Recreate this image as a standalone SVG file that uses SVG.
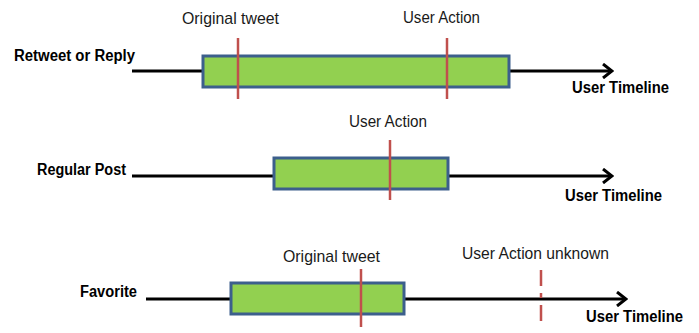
<svg xmlns="http://www.w3.org/2000/svg" width="699" height="333" viewBox="0 0 699 333">
  <defs>
    <style>
      .label { font-family: "Liberation Sans", Arial, sans-serif; font-size: 17px; fill: #1a1a1a; }
      .title { font-family: "Liberation Sans", Arial, sans-serif; font-size: 16px; font-weight: bold; fill: #000; }
      .axis { stroke: #000; stroke-width: 3; fill: none; }
      .span { fill: #92d050; stroke: #3c5f8c; stroke-width: 3; }
      .mark { stroke: #c0504d; stroke-width: 2.5; }
      .mark-unknown { stroke: #c0504d; stroke-width: 2.5; stroke-dasharray: 16 7 5 7 16; }
    </style>
    <marker id="chevron" viewBox="0 0 12 16" refX="10" refY="8" markerWidth="12" markerHeight="16" markerUnits="userSpaceOnUse" orient="auto">
      <path d="M1,1 L10,8 L1,15" fill="none" stroke="#000" stroke-width="3"/>
    </marker>
  </defs>
  <rect width="699" height="333" fill="#fff"/>

  <!-- timelines -->
  <g id="connectors">
    <line class="axis" x1="132" y1="71" x2="612" y2="71" marker-end="url(#chevron)"/>
    <line class="axis" x1="132" y1="176" x2="612" y2="176" marker-end="url(#chevron)"/>
    <line class="axis" x1="146" y1="299" x2="626" y2="299" marker-end="url(#chevron)"/>
  </g>

  <!-- row 1: retweet or reply -->
  <g id="retweet-reply">
    <text class="title" x="14" y="61" textLength="121" lengthAdjust="spacingAndGlyphs">Retweet or Reply</text>
    <rect class="span" x="203" y="56" width="306" height="31"/>
    <line class="mark" x1="238" y1="38" x2="238" y2="99"/>
    <line class="mark" x1="447" y1="38" x2="447" y2="99"/>
    <text class="label" x="182" y="24" textLength="97" lengthAdjust="spacingAndGlyphs">Original tweet</text>
    <text class="label" x="403" y="23" textLength="77" lengthAdjust="spacingAndGlyphs">User Action</text>
    <text class="title" x="572" y="93" textLength="97" lengthAdjust="spacingAndGlyphs">User Timeline</text>
  </g>

  <!-- row 2: regular post -->
  <g id="regular-post">
    <text class="title" x="37" y="175" textLength="89" lengthAdjust="spacingAndGlyphs">Regular Post</text>
    <rect class="span" x="274" y="158" width="174" height="31"/>
    <line class="mark" x1="390" y1="140" x2="390" y2="200"/>
    <text class="label" x="349" y="127" textLength="78" lengthAdjust="spacingAndGlyphs">User Action</text>
    <text class="title" x="565" y="201" textLength="97" lengthAdjust="spacingAndGlyphs">User Timeline</text>
  </g>

  <!-- row 3: favorite -->
  <g id="favorite">
    <text class="title" x="80" y="297" textLength="57" lengthAdjust="spacingAndGlyphs">Favorite</text>
    <rect class="span" x="231" y="283" width="173" height="31"/>
    <line class="mark" x1="361" y1="269" x2="361" y2="327"/>
    <line class="mark-unknown" x1="541" y1="270" x2="541" y2="327"/>
    <text class="label" x="283" y="262" textLength="97" lengthAdjust="spacingAndGlyphs">Original tweet</text>
    <text class="label" x="462" y="259" textLength="147" lengthAdjust="spacingAndGlyphs">User Action unknown</text>
    <text class="title" x="586" y="322" textLength="97" lengthAdjust="spacingAndGlyphs">User Timeline</text>
  </g>
</svg>
